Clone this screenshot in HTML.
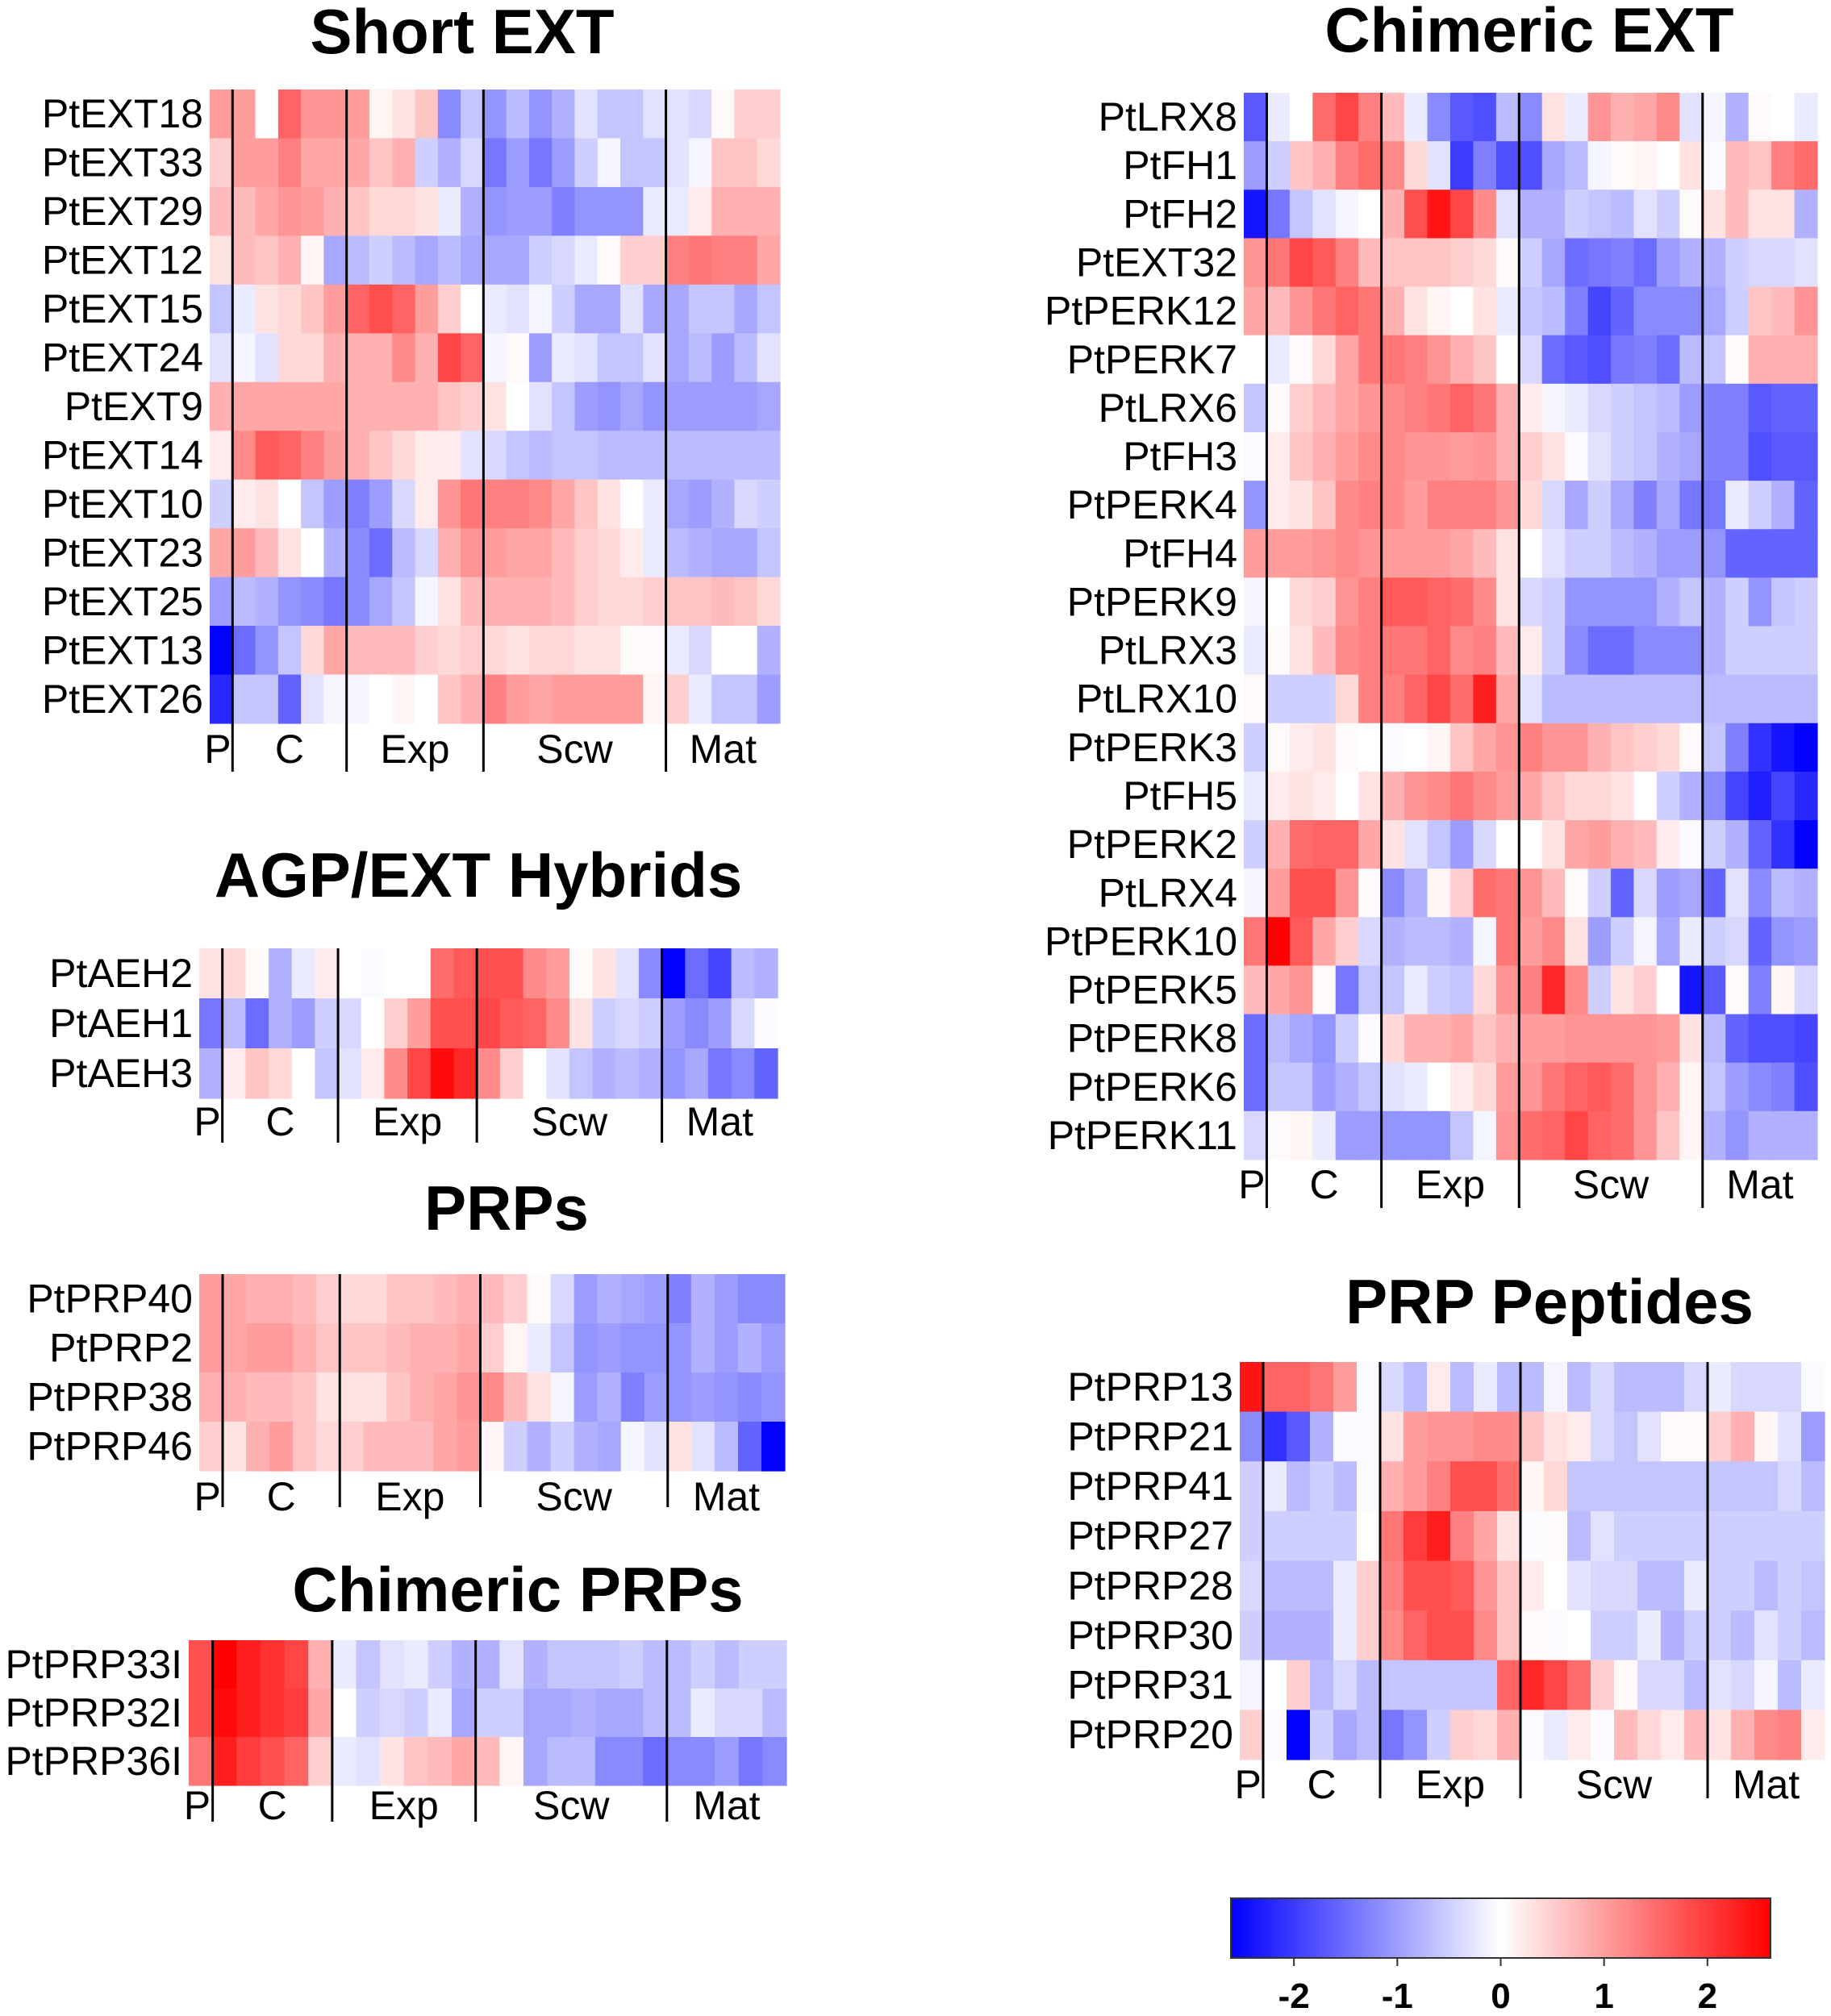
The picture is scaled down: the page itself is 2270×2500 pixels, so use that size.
<!DOCTYPE html>
<html><head><meta charset="utf-8"><style>
html,body{margin:0;padding:0;background:#fff;}
svg{display:block;font-family:"Liberation Sans",sans-serif;}
</style></head><body>
<svg id="fig" width="2270" height="2500" viewBox="0 0 2270 2500" xmlns="http://www.w3.org/2000/svg"></svg>
<script>
const groupNames = ["P","C","Exp","Scw","Mat"];
const groupBreaks = [1,6,12,20];
const groupCenters = [0.35,3.5,9,16,22.5];

const shortExtRows = ["PtEXT18","PtEXT33","PtEXT29","PtEXT12","PtEXT15","PtEXT24","PtEXT9","PtEXT14","PtEXT10","PtEXT23","PtEXT25","PtEXT13","PtEXT26"];
const shortExtVals = [
[1.0, 1.0,0,1.6,1.1,1.1, 1.0,0.1,0.3,0.6,-1.2,-0.6, -1.1,-0.7,-1.1,-0.8,-0.3,-0.6,-0.6,-0.3, -0.3,-0.4,0.05,0.5,0.5],
[0.5, 1.0,1.0,1.3,0.9,0.9, 0.9,0.6,0.8,-0.5,-0.8,-0.4, -1.4,-1.0,-1.4,-1.0,-0.5,-0.1,-0.6,-0.6, -0.3,-0.1,0.6,0.6,0.4],
[0.7, 0.7,0.9,1.1,1.0,0.8, 0.6,0.4,0.4,0.3,-0.2,-0.8, -1.1,-1.0,-1.0,-1.3,-1.1,-1.1,-1.1,-0.2, -0.2,0.2,0.8,0.8,0.8],
[0.3, 0.7,0.6,0.8,0.1,-0.9, -0.7,-0.5,-0.7,-0.9,-0.7,-0.9, -0.9,-0.9,-0.5,-0.4,-0.2,0.05,0.5,0.5, 1.3,1.4,1.3,1.3,0.9],
[-0.6, -0.2,0.3,0.4,0.6,1.0, 1.6,1.8,1.6,1.0,0.5,0, -0.2,-0.3,-0.1,-0.5,-0.9,-0.9,-0.3,-0.9, -0.9,-0.6,-0.6,-0.9,-0.6],
[-0.3, -0.1,-0.3,0.4,0.4,0.8, 0.8,0.8,1.2,0.8,1.9,1.6, -0.1,0.05,-1.0,-0.2,-0.3,-0.6,-0.6,-0.3, -0.9,-0.7,-1.0,-0.7,-0.3],
[0.8, 0.9,0.9,0.9,0.9,0.9, 0.8,0.8,0.8,0.8,0.6,0.5, 0.3,0,-0.3,-0.6,-1.0,-1.1,-0.9,-1.1, -1.0,-1.0,-1.0,-1.0,-0.9],
[0.2, 1.2,1.7,1.6,1.3,1.0, 0.8,0.6,0.4,0.2,0.2,-0.3, -0.4,-0.6,-0.7,-0.6,-0.6,-0.7,-0.7,-0.7, -0.7,-0.7,-0.7,-0.7,-0.7],
[-0.5, 0.2,0.3,0,-0.6,-1.0, -1.3,-1.0,-0.4,0.2,1.1,1.4, 1.3,1.3,1.2,0.9,0.6,0.3,0,-0.2, -0.9,-1.0,-0.8,-0.4,-0.5],
[0.9, 1.0,0.7,0.3,0,-0.8, -1.2,-1.5,-0.7,-0.4,0.8,1.1, 1.0,0.9,0.9,0.7,0.5,0.4,0.2,-0.2, -0.7,-0.8,-0.9,-0.9,-0.6],
[-1.0, -0.7,-0.8,-1.1,-1.2,-1.4, -1.2,-0.9,-0.6,-0.1,0.3,0.7, 0.8,0.8,0.8,0.7,0.5,0.4,0.4,0.5, 0.6,0.6,0.7,0.6,0.4],
[-2.6, -1.5,-1.1,-0.6,0.4,0.9, 0.7,0.7,0.7,0.5,0.4,0.5, 0.4,0.3,0.4,0.4,0.3,0.3,0.05,0.05, -0.2,-0.4,0,0,-0.8],
[-2.2, -0.6,-0.6,-1.6,-0.3,-0.1, -0.1,0,0.1,0,0.6,0.8, 1.3,1.0,0.9,1.0,1.0,1.0,1.0,0.1, 0.5,-0.2,-0.6,-0.6,-1.0]
];

const aehRows = ["PtAEH2","PtAEH1","PtAEH3"];
const aehVals = [
[0.3, 0.4,0.05,-0.8,-0.2,0.2, 0,-0.05,0,0,1.5,1.7, 1.8,1.8,1.2,1.0,0.05,0.3,-0.3,-1.2, -2.6,-1.5,-1.9,-0.7,-0.8],
[-1.4, -0.7,-1.5,-0.8,-1.0,-0.5, -0.4,0,0.5,1.0,1.8,1.8, 1.9,1.7,1.6,1.2,0.3,-0.5,-0.4,-0.5, -1.0,-1.2,-1.0,-0.4,-0.05],
[-0.8, 0.2,0.6,0.4,0,-0.6, -0.3,0.2,1.2,1.9,2.5,2.2, 1.2,0.5,0,-0.3,-0.6,-0.8,-0.7,-0.8, -1.1,-0.9,-1.4,-1.2,-1.6]
];

const prpRows = ["PtPRP40","PtPRP2","PtPRP38","PtPRP46"];
const prpVals = [
[1.0, 0.9,0.8,0.8,0.7,0.5, 0.4,0.4,0.6,0.6,0.7,0.8, 0.7,0.5,0.05,-0.4,-1.0,-0.8,-0.9,-1.0, -1.3,-0.8,-1.0,-1.2,-1.2],
[1.0, 0.9,1.0,1.0,0.8,0.6, 0.6,0.6,0.7,0.8,0.8,0.9, 0.5,0.1,-0.2,-0.6,-1.1,-1.0,-1.1,-1.1, -1.1,-0.8,-1.0,-0.8,-1.0],
[0.8, 0.8,0.7,0.7,0.6,0.3, 0.3,0.3,0.6,0.8,0.9,1.1, 1.2,0.7,0.3,-0.1,-1.0,-0.8,-1.3,-1.0, -1.1,-1.0,-1.1,-1.2,-1.1],
[0.5, 0.3,0.8,1.0,0.6,0.4, 0.5,0.7,0.7,0.7,0.9,1.0, 0.1,-0.5,-0.8,-0.5,-0.8,-0.9,-0.1,-0.3, 0.3,-0.3,-0.7,-1.6,-2.6]
];

const chimPrpRows = ["PtPRP33I","PtPRP32I","PtPRP36I"];
const chimPrpVals = [
[1.8, 2.6,2.3,2.1,1.9,0.8, -0.2,-0.6,-0.3,-0.2,-0.5,-0.8, -0.8,-0.3,-0.8,-0.6,-0.6,-0.6,-0.5,-0.7, -0.7,-0.5,-0.7,-0.5,-0.5],
[1.8, 2.5,2.3,2.1,2.0,0.9, 0,-0.5,-0.4,-0.5,-0.2,-0.9, -0.5,-0.5,-0.9,-0.9,-0.8,-0.9,-0.9,-0.7, -0.7,-0.2,-0.4,-0.4,-0.7],
[1.4, 2.3,2.0,1.8,1.6,0.5, -0.2,-0.3,0.3,0.6,0.7,0.9, 0.7,0.1,-0.9,-0.7,-0.7,-1.2,-1.2,-1.5, -1.2,-1.2,-1.0,-1.4,-1.2]
];

const chimExtRows = ["PtLRX8","PtFH1","PtFH2","PtEXT32","PtPERK12","PtPERK7","PtLRX6","PtFH3","PtPERK4","PtFH4","PtPERK9","PtLRX3","PtLRX10","PtPERK3","PtFH5","PtPERK2","PtLRX4","PtPERK10","PtPERK5","PtPERK8","PtPERK6","PtPERK11"];
const chimExtVals = [
[-1.7, -0.2,0,1.5,1.9,1.3, 0.7,-0.2,-1.2,-1.7,-1.8,-0.7, -1.2,0.3,-0.2,1.1,0.8,0.9,1.2,-0.3, -0.1,-0.8,0.05,0,-0.2],
[-1.0, -0.5,0.6,0.8,1.3,1.5, 1.2,0.4,-0.3,-2.0,-1.3,-1.8, -1.8,-0.9,-0.7,-0.1,0.05,0.1,0,0.3, -0.05,0.7,0.6,1.3,1.5],
[-2.4, -1.4,-0.6,-0.3,-0.1,0, 0.8,1.8,2.4,1.9,1.2,-0.3, -0.8,-0.8,-0.5,-0.6,-0.7,-0.3,-0.5,0.05, 0.3,0.7,0.3,0.3,-0.8],
[1.1, 1.4,1.9,1.7,1.3,0.7, 0.6,0.6,0.6,0.5,0.4,0.05, -0.5,-0.9,-1.5,-1.4,-1.3,-1.5,-1.0,-0.8, -0.8,-0.5,-0.4,-0.4,-0.3],
[0.9, 0.7,1.1,1.4,1.6,1.4, 0.8,0.3,0.1,0,0.3,-0.2, -0.6,-0.7,-1.3,-1.9,-1.6,-1.2,-1.2,-1.2, -0.9,-0.5,0.6,0.7,1.1],
[0, -0.2,0.05,0.4,0.9,1.4, 1.4,1.3,1.1,0.8,0.6,0, -0.4,-1.5,-1.7,-1.8,-1.4,-1.3,-1.5,-0.7, -0.6,0.05,0.8,0.8,0.8],
[-0.6, 0.05,0.5,0.7,0.9,1.1, 1.2,1.3,1.4,1.6,1.4,0.8, 0.2,-0.1,-0.2,-0.4,-0.5,-0.6,-0.7,-1.0, -1.3,-1.3,-1.7,-1.6,-1.6],
[-0.05, 0.2,0.6,0.8,1.0,1.2, 1.2,1.1,1.1,1.0,1.1,0.8, 0.5,0.3,-0.05,-0.3,-0.5,-0.6,-0.8,-0.9, -1.3,-1.3,-1.8,-1.7,-1.7],
[-1.1, 0.2,0.3,0.6,1.2,1.3, 1.2,1.0,1.3,1.3,1.3,1.1, 0.4,-0.4,-0.9,-0.5,-0.9,-1.3,-0.9,-1.4, -1.4,-0.2,-0.5,-0.8,-1.6],
[1.0, 1.0,1.0,1.1,1.2,1.1, 1.0,1.0,1.0,0.9,0.7,0.3, 0,-0.3,-0.5,-0.5,-0.7,-0.8,-1.0,-1.0, -1.1,-1.6,-1.6,-1.6,-1.6],
[-0.1, 0,0.4,0.5,1.1,1.3, 1.7,1.7,1.6,1.5,1.2,0.3, -0.4,-0.5,-1.1,-1.1,-1.1,-1.1,-0.8,-0.6, -0.8,-0.5,-1.1,-0.6,-0.5],
[-0.2, 0.05,0.3,0.7,1.2,1.3, 1.4,1.4,1.6,1.2,1.3,0.7, 0.2,-0.5,-1.2,-1.5,-1.5,-1.2,-1.2,-1.2, -0.8,-0.5,-0.5,-0.5,-0.5],
[0.05, -0.5,-0.5,-0.5,0.4,1.3, 1.3,1.6,1.9,1.5,2.3,0.9, -0.3,-0.7,-0.7,-0.7,-0.7,-0.7,-0.7,-0.7, -0.7,-0.7,-0.7,-0.7,-0.7],
[-0.5, 0.05,0.2,0.3,0.05,0, -0.05,0,0.1,0.6,0.9,1.1, 1.3,1.1,1.1,0.8,0.6,0.5,0.4,0.05, -0.6,-1.3,-2.1,-2.4,-2.6],
[-0.2, 0.2,0.3,0.2,0,0.3, 0.8,1.1,1.2,1.4,1.2,1.0, 0.9,0.6,0.4,0.4,0.3,0,-0.5,-0.8, -1.2,-1.9,-2.3,-1.9,-2.2],
[-0.5, 0.8,1.5,1.6,1.6,0.9, 0.3,-0.3,-0.6,-1.0,-0.4,0, 0,0.3,0.9,1.0,0.8,0.7,0.2,-0.05, -0.5,-0.8,-1.6,-2.1,-2.6],
[-0.1, 1.0,1.8,1.8,1.1,0.05, -1.2,-0.8,0.1,0.5,1.5,1.4, 1.1,0.7,0.05,-0.5,-1.6,-0.4,-1.0,-0.9, -1.6,-0.3,-1.2,-0.7,-0.8],
[1.4, 2.6,1.7,0.9,0.5,-0.4, -0.8,-0.7,-0.7,-0.8,-0.1,1.4, 1.0,1.2,0.3,-1.0,-0.5,-0.1,-0.9,-0.2, -0.5,-0.4,-1.6,-1.1,-1.0],
[0.7, 0.9,1.1,0.05,-1.4,-0.6, -0.6,-0.2,-0.5,-0.6,0.4,1.1, 1.3,2.2,1.2,-0.5,0.3,0.5,0,-2.4, -1.7,0.05,-1.3,0.1,-0.4],
[-1.5, -0.7,-0.9,-1.1,-0.5,-0.05, 0.4,0.8,0.8,0.9,0.6,0.8, 1.0,1.0,1.1,1.1,1.1,1.1,1.0,0.3, -0.7,-1.6,-1.8,-1.8,-1.9],
[-1.5, -0.6,-0.6,-1.0,-0.8,-0.6, -0.3,-0.2,0,0.2,0.4,1.0, 1.1,1.4,1.6,1.7,1.5,1.1,0.8,0.1, -0.6,-1.0,-1.2,-1.3,-1.8],
[-0.4, 0.05,0.1,-0.2,-1.0,-1.0, -1.1,-1.1,-1.1,-0.6,-0.1,1.1, 1.5,1.6,1.9,1.6,1.5,1.1,0.6,0.1, -0.8,-1.1,-0.8,-0.8,-0.8]
];

const pepRows = ["PtPRP13","PtPRP21","PtPRP41","PtPRP27","PtPRP28","PtPRP30","PtPRP31","PtPRP20"];
const pepVals = [
[2.4, 1.6,1.6,1.4,1.0,-0.05, -0.4,-0.7,0.2,-0.7,-0.2,-0.7, -0.7,-0.1,-0.7,-0.4,-0.7,-0.7,-0.7,-0.4, -0.2,-0.4,-0.4,-0.4,-0.05],
[-1.2, -2.1,-1.7,-0.8,-0.05,-0.05, 0.3,1.0,1.1,1.1,1.2,1.2, 0.6,0.3,0.2,-0.4,-0.6,-0.3,0.05,0.05, 0.5,0.8,0.1,-0.3,-1.0],
[-0.5, -0.2,-0.7,-0.5,-0.7,-0.05, 0.8,1.0,1.3,1.8,1.8,1.5, 0.1,0.4,-0.6,-0.6,-0.6,-0.6,-0.6,-0.6, -0.6,-0.6,-0.6,-0.4,-0.7],
[-0.5, -0.5,-0.5,-0.5,-0.5,0, 1.4,2.0,2.3,1.3,0.9,0.3, -0.05,0.05,-0.7,-0.3,-0.5,-0.5,-0.5,-0.5, -0.5,-0.5,-0.5,-0.5,-0.5],
[-0.4, -0.7,-0.7,-0.7,-0.2,0.5, 1.3,1.8,1.8,1.7,1.1,0.6, 0.2,0,-0.3,-0.4,-0.4,-0.7,-0.7,-0.2, -0.5,-0.5,-0.7,-0.5,-0.6],
[-0.5, -0.8,-0.8,-0.8,-0.2,0.5, 1.2,1.6,1.8,1.8,1.2,0.6, 0.05,-0.05,0,-0.5,-0.5,-0.2,-0.8,-0.5, -0.5,-0.7,-0.3,-0.5,-0.7],
[-0.1, 0,0.5,-0.7,-0.4,-0.7, -0.6,-0.6,-0.6,-0.6,-0.6,1.6, 2.2,1.9,1.5,0.5,0.05,-0.4,-0.4,-0.7, -0.3,-0.4,-0.1,-0.7,-0.2],
[0.5, -0.05,-2.6,-0.5,-0.9,-0.7, -1.4,-1.1,-0.5,0.5,0.4,0.8, -0.05,-0.2,0.2,-0.05,0.7,0.4,0.2,0.7, 0.3,0.8,1.2,1.3,0.2]
];

const colorbarTicks = [-2,-1,0,1,2];
const vMin = -2.61, vMax = 2.61;

const NS = "http://www.w3.org/2000/svg";
const svg = document.getElementById("fig");
function mk(tag, attrs, parent){
  const e = document.createElementNS(NS, tag);
  for (const k in attrs) e.setAttribute(k, attrs[k]);
  (parent||svg).appendChild(e);
  return e;
}
function colorOf(v){
  let t = Math.max(-1, Math.min(1, v / vMax));
  let r,g,b;
  if (t < 0){ const a = 1 + t; r = Math.round(255*a); g = Math.round(255*a); b = 255; }
  else { const a = 1 - t; r = 255; g = Math.round(255*a); b = Math.round(255*a); }
  return "rgb("+r+","+g+","+b+")";
}

function drawHeatmap(key, title, titleX, titleY, x0, y0, w, h, rows, vals, lineExt, groupY){
  const g = mk("g", {});
  
  
  const ncol = vals[0].length, nrow = rows.length;
  const cw = w / ncol, rh = h / nrow;
  const xs = c => x0 + c * cw;
  const ys = r => y0 + r * rh;
  const t = mk("text", {x:titleX, y:titleY, "text-anchor":"middle", "font-size":78, "font-weight":"bold", fill:"#000"}, g);
  t.textContent = title;
  
  
  for (let r = 0; r < nrow; r++){
    for (let c = 0; c < ncol; c++){
      const cell = mk("rect", {x:xs(c), y:ys(r), width:cw+0.6, height:rh+0.6, fill:colorOf(vals[r][c])}, g);
      
      
    }
    const lb = mk("text", {x:x0 - 8, y:ys(r) + rh/2 + 17, "text-anchor":"end", "font-size":50, fill:"#000"}, g);
    lb.textContent = rows[r];
    
    
  }
  for (const b of groupBreaks){
    const ln = mk("line", {x1:xs(b), x2:xs(b), y1:y0, y2:y0 + h + lineExt, stroke:"#000", "stroke-width":3}, g);
    
    
  }
  for (let i = 0; i < groupNames.length; i++){
    const gl = mk("text", {x:xs(groupCenters[i]), y:groupY, "text-anchor":"middle", "font-size":50, fill:"#000"}, g);
    gl.textContent = groupNames[i];
    
    
  }
}

drawHeatmap("short-ext", "Short EXT", 573, 66, 260, 111, 707, 786, shortExtRows, shortExtVals, 60, 946);
drawHeatmap("agp-ext-hybrids", "AGP/EXT Hybrids", 593, 1112, 247, 1176, 717, 186, aehRows, aehVals, 55, 1408);
drawHeatmap("prps", "PRPs", 628, 1525, 247, 1580, 726, 244, prpRows, prpVals, 45, 1873);
drawHeatmap("chimeric-prps", "Chimeric PRPs", 642, 1998, 234, 2034, 741, 180, chimPrpRows, chimPrpVals, 45, 2256);
drawHeatmap("chimeric-ext", "Chimeric EXT", 1896, 64, 1542, 115, 711, 1323, chimExtRows, chimExtVals, 60, 1486);
drawHeatmap("prp-peptides", "PRP Peptides", 1921, 1641, 1537, 1689, 725, 493, pepRows, pepVals, 48, 2230);

// colorbar
const cb = mk("g", {});


const defs = mk("defs", {}, cb);
const grad = mk("linearGradient", {id:"cbg", x1:"0", x2:"1", y1:"0", y2:"0"}, defs);
mk("stop", {offset:"0", "stop-color":colorOf(vMin)}, grad);
mk("stop", {offset:"0.5", "stop-color":"#fff"}, grad);
mk("stop", {offset:"1", "stop-color":colorOf(vMax)}, grad);
const cbX = 1526, cbW = 669, cbY = 2354, cbH = 74;
const cbScale = v => cbX + (v - vMin) / (vMax - vMin) * cbW;
const cbRect = mk("rect", {x:cbX, y:cbY, width:cbW, height:cbH, fill:"url(#cbg)", stroke:"#333", "stroke-width":2}, cb);


for (const tv of colorbarTicks){
  const tk = mk("line", {x1:cbScale(tv), x2:cbScale(tv), y1:cbY+cbH, y2:cbY+cbH+10, stroke:"#333", "stroke-width":2}, cb);
  
  
  const tl = mk("text", {x:cbScale(tv), y:2490, "text-anchor":"middle", "font-size":44, "font-weight":"bold", fill:"#000"}, cb);
  tl.textContent = String(tv);
  
  
}
</script>
</body></html>
